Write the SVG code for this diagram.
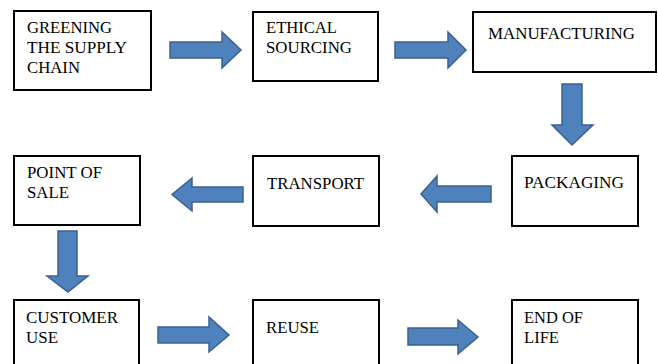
<svg xmlns="http://www.w3.org/2000/svg" width="658" height="364" viewBox="0 0 658 364">
<style>
.box{fill:#fff;stroke:#000;stroke-width:2}
.arr{fill:#4F81BD;stroke:#3A6190;stroke-width:1.5;stroke-linejoin:miter}
.t{font-family:'Liberation Serif','Times New Roman',serif;font-size:16px;fill:#000}
</style>
<rect width="658" height="364" fill="#fff"/>
<g id="connectors">
<path class="arr" d="M170,42 H222 V32 L241,50 L222,68 V58 H170 Z"/>
<path class="arr" d="M395,42 H448 V32 L466,50 L448,68 V58 H395 Z"/>
<path class="arr" d="M562,84 H582 V125 H593 L572,145 L552,125 H562 Z"/>
<path class="arr" d="M491,186 H437 V176 L421,194 L437,212 V202 H491 Z"/>
<path class="arr" d="M243,187 H192 V178 L172,194.5 L192,211 V202 H243 Z"/>
<path class="arr" d="M58,231 H77 V276 H88 L68,292 L47,276 H58 Z"/>
<path class="arr" d="M158,327 H209 V317 L229,335 L209,352 V343 H158 Z"/>
<path class="arr" d="M408,328 H458 V320 L478,337 L458,354 V345 H408 Z"/>
</g>
<g id="greening">
<rect class="box" x="14" y="11" width="137" height="79"/>
<text class="t" x="27" y="33" textLength="85" lengthAdjust="spacingAndGlyphs">GREENING</text>
<text class="t" x="27" y="53" textLength="100" lengthAdjust="spacingAndGlyphs">THE SUPPLY</text>
<text class="t" x="27" y="73" textLength="53" lengthAdjust="spacingAndGlyphs">CHAIN</text>
</g>
<g id="ethical">
<rect class="box" x="253" y="12" width="125" height="69"/>
<text class="t" x="266" y="33" textLength="71" lengthAdjust="spacingAndGlyphs">ETHICAL</text>
<text class="t" x="266" y="53" textLength="86" lengthAdjust="spacingAndGlyphs">SOURCING</text>
</g>
<g id="manufacturing">
<rect class="box" x="473" y="12" width="183" height="60"/>
<text class="t" x="488" y="39" textLength="147" lengthAdjust="spacingAndGlyphs">MANUFACTURING</text>
</g>
<g id="packaging">
<rect class="box" x="512" y="156" width="126" height="70"/>
<text class="t" x="524" y="188" textLength="100" lengthAdjust="spacingAndGlyphs">PACKAGING</text>
</g>
<g id="transport">
<rect class="box" x="253" y="156" width="126" height="70"/>
<text class="t" x="267" y="189" textLength="97" lengthAdjust="spacingAndGlyphs">TRANSPORT</text>
</g>
<g id="point-of-sale">
<rect class="box" x="14" y="156" width="126" height="69"/>
<text class="t" x="27" y="178" textLength="75" lengthAdjust="spacingAndGlyphs">POINT OF</text>
<text class="t" x="27" y="198" textLength="42" lengthAdjust="spacingAndGlyphs">SALE</text>
</g>
<g id="customer-use">
<rect class="box" x="14" y="300" width="125" height="75"/>
<text class="t" x="26" y="323" textLength="92" lengthAdjust="spacingAndGlyphs">CUSTOMER</text>
<text class="t" x="26" y="343" textLength="32" lengthAdjust="spacingAndGlyphs">USE</text>
</g>
<g id="reuse">
<rect class="box" x="253" y="300" width="126" height="75"/>
<text class="t" x="266" y="333" textLength="53" lengthAdjust="spacingAndGlyphs">REUSE</text>
</g>
<g id="end-of-life">
<rect class="box" x="512" y="300" width="126" height="75"/>
<text class="t" x="524" y="323" textLength="59" lengthAdjust="spacingAndGlyphs">END OF</text>
<text class="t" x="524" y="343" textLength="35" lengthAdjust="spacingAndGlyphs">LIFE</text>
</g>
</svg>
